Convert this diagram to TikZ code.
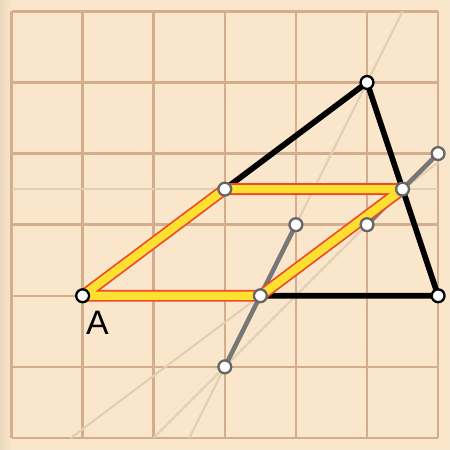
\documentclass[tikz,border=0pt]{standalone}
\usepackage{fontspec}
\setsansfont{Liberation Sans}
\usetikzlibrary{calc}
\definecolor{paper}{HTML}{FAE6CA}
\definecolor{paperedge}{HTML}{EAD7BC}
\definecolor{gridtan}{HTML}{D3AD8C}
\definecolor{faint}{HTML}{E2D0B4}
\definecolor{hlred}{HTML}{EE4A2A}
\definecolor{hlyellow}{HTML}{FDE030}
\definecolor{segray}{HTML}{777777}
\tikzset{
  gridline/.style={gridtan, line width=1.4pt},
  guide/.style={faint, line width=1.2pt},
  side/.style={black, line width=3.2pt, line join=round, line cap=round},
  seg/.style={segray, line width=2.6pt, line cap=round},
  hlborder/.style={hlred, line width=6.6pt, line join=round},
  hlfill/.style={hlyellow, line width=4.6pt, line join=round},
  vtx/.style={circle, draw=black, fill=white, line width=1.3pt, inner sep=0pt, minimum size=7.2pt},
  aux/.style={vtx, draw=black!60},
}

\begin{document}
\begin{tikzpicture}[x=1.4cm, y=1.4cm]
\useasboundingbox (-0.162,-0.169) rectangle (6.167,6.160);
\fill[paper] (-0.162,-0.169) rectangle (6.167,6.160);
\shade[left color=paperedge, right color=paper] (-0.162,-0.169) rectangle (0,6.160);
% grid
\foreach \i in {0,...,6} {
  \draw[gridline] (\i,0) -- (\i,6);
  \draw[gridline] (0,\i) -- (6,\i);
}
% points
\coordinate (A) at (1,2);
\coordinate (B) at (5,5);
\coordinate (C) at (6,2);
\coordinate (P) at (3.5,2);
\coordinate (Q) at (5.5,3.5);
\coordinate (R) at (3,3.5);
\coordinate (S) at (3,1);
\coordinate (T) at (4,3);
\coordinate (U) at (5,3);
\coordinate (V) at (6,4);
% guide lines
\coordinate (g1a) at (0,3.5);     \coordinate (g1b) at (6,3.5);
\coordinate (g2a) at (2.5,0);     \coordinate (g2b) at (5.5,6);
\coordinate (g3a) at (2,0);       \coordinate (g3b) at (6,4);
\coordinate (g4a) at (0.8333,0);  \coordinate (g4b) at (6,3.875);
\draw[guide] (g1a) -- (g1b);
\draw[guide] (g2a) -- (g2b);
\draw[guide] (g3a) -- (g3b);
\draw[guide] (g4a) -- (g4b);
% triangle
\draw[side] (A) -- (B) -- (C) -- cycle;
% gray segments
\draw[seg] (S) -- (T);
\draw[seg] (U) -- (V);
% parallelogram
\draw[hlborder] (A) -- (P) -- (Q) -- (R) -- cycle;
\draw[hlfill] (A) -- (P) -- (Q) -- (R) -- cycle;
% vertices
\node[vtx] (nA) at (A) {};
\node[vtx] (nB) at (B) {};
\node[vtx] (nC) at (C) {};
\node[aux] (nP) at (P) {};
\node[aux] (nQ) at (Q) {};
\node[aux] (nR) at (R) {};
\node[aux] (nS) at (S) {};
\node[aux] (nT) at (T) {};
\node[aux] (nU) at (U) {};
\node[aux] (nV) at (V) {};
\node[font=\sffamily\fontsize{19}{19}\selectfont] (lblA) at (1.21,1.62) {A};
\end{tikzpicture}
\end{document}
